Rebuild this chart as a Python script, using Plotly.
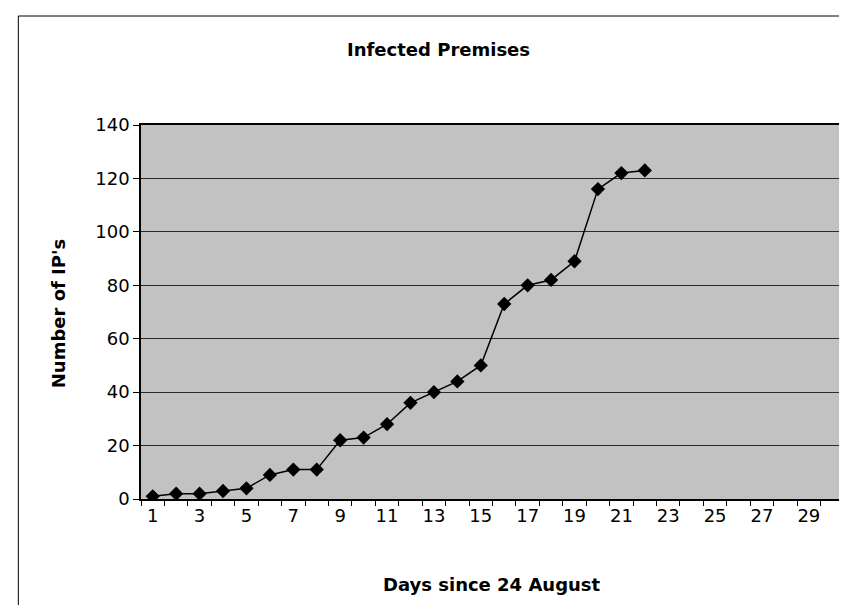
import plotly.graph_objects as go

# ---- data ----
days = list(range(1, 23))
ips = [1, 2, 2, 3, 4, 9, 11, 11, 22, 23, 28, 36, 40, 44, 50, 73, 80, 82, 89, 116, 122, 123]
x_tick_vals = list(range(1, 30, 2))
x_tick_text = [str(v) for v in x_tick_vals]
y_tick_vals = list(range(0, 141, 20))

FONT = "DejaVu Sans, Liberation Sans, Arial, sans-serif"

fig = go.Figure()
fig.add_trace(go.Scatter(
    x=days, y=ips, mode="lines+markers",
    line=dict(color="black", width=1.5),
    marker=dict(symbol="diamond", size=11, color="black"),
    showlegend=False,
))

W, H = 847, 605
L, R, T, B = 133, 9, 117, 114
pw, ph = W - L - R, H - T - B

def px_x(x):
    return (x - L) / pw

def px_y(y):
    return 1 - (y - T) / ph

fig.update_layout(
    width=W, height=H,
    margin=dict(l=L, r=R, t=T, b=B),
    paper_bgcolor="white",
    plot_bgcolor="#c2c2c2",
    font=dict(family=FONT, size=18, color="black"),
    annotations=[
        dict(text="<b>Infected Premises</b>", xref="paper", yref="paper",
             x=px_x(431), y=px_y(41), xanchor="center", yanchor="middle",
             showarrow=False, font=dict(size=18)),
        dict(text="<b>Days since 24 August</b>", xref="paper", yref="paper",
             x=px_x(485), y=px_y(576), xanchor="center", yanchor="middle",
             showarrow=False, font=dict(size=18)),
        dict(text="<b>Number of IP's</b>", xref="paper", yref="paper",
             x=px_x(50), y=px_y(306), xanchor="center", yanchor="middle",
             textangle=-90, showarrow=False, font=dict(size=18)),
    ],
    xaxis=dict(
        range=[0.5, 30.5], tickmode="array", tickvals=x_tick_vals, ticktext=x_tick_text,
        ticks="", showgrid=False, zeroline=False,
        showline=True, linecolor="black", linewidth=1.5, mirror=True,
        minor=dict(tick0=0.5, dtick=1, ticks="outside", ticklen=5, tickcolor="black", showgrid=False),
        tickfont=dict(size=18),
        fixedrange=True,
    ),
    yaxis=dict(
        range=[0, 140], tickmode="array", tickvals=y_tick_vals,
        ticks="outside", ticklen=6, tickcolor="black",
        showgrid=True, gridcolor="#2a2a2a", gridwidth=1, zeroline=False,
        showline=True, linecolor="black", linewidth=1.5, mirror=True,
        tickfont=dict(size=18),
        fixedrange=True,
    ),
    shapes=[
        dict(type="line", xref="paper", yref="paper",
             x0=px_x(10), x1=px_x(10), y0=px_y(8), y1=px_y(H + 5),
             line=dict(color="black", width=1)),
        dict(type="line", xref="paper", yref="paper",
             x0=px_x(10), x1=px_x(W + 5), y0=px_y(8), y1=px_y(8),
             line=dict(color="black", width=1)),
    ],
)

fig.write_html("out.html")
